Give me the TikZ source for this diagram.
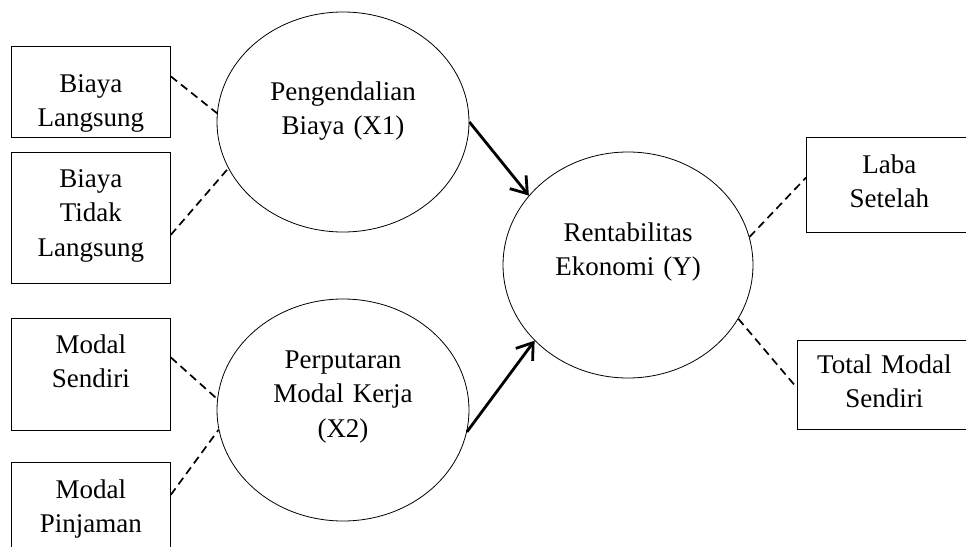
\documentclass[tikz,border=0pt]{standalone}
\usepackage{fontspec}
\setmainfont{Liberation Serif}
\usepackage{tikz}
\usetikzlibrary{positioning, arrows.meta, shapes.geometric}

\begin{document}
\begin{tikzpicture}[
    x=1pt, y=-1pt,
    indicator/.style={rectangle, draw, line width=0.8pt, inner sep=0pt, text width=159pt, align=center, font=\fontsize{27}{34.5}\selectfont},
    latent/.style={ellipse, draw, line width=0.8pt, inner sep=0pt, text width=170pt, align=center, text height=20pt, font=\fontsize{27}{34.5}\selectfont},
    arrow/.style={-{Straight Barb[length=15pt, width=21pt]}, line width=2.8pt},
    link/.style={line width=1.7pt, dash pattern=on 8pt off 5pt},
]

\useasboundingbox (0,0) rectangle (966,546);
\clip (0,0) rectangle (966,546);

% Indicators of X1
\node[indicator, anchor=north west, text height=46pt, text depth=45pt] (bl) at (11,46) {Biaya\\Langsung};
\node[indicator, anchor=north west, text height=35pt, text depth=96pt] (btl) at (11,152) {Biaya\\Tidak\\Langsung};

% Indicators of X2
\node[indicator, anchor=north west, text height=35pt, text depth=77pt] (ms) at (11,318) {Modal\\Sendiri};
\node[indicator, anchor=north west, text height=36pt, text depth=100pt] (mp) at (11,462) {Modal\\Pinjaman};

% Latent variables
\node[latent, minimum width=252pt, minimum height=220pt, text depth=64pt] (x1) at (343,122) {Pengendalian\\Biaya (X1)};
\node[latent, minimum width=252pt, minimum height=222pt, text depth=104pt] (x2) at (343,410) {Perputaran\\Modal Kerja\\(X2)};
\node[latent, minimum width=250pt, minimum height=226pt, text depth=68pt] (y) at (628,265) {Rentabilitas\\Ekonomi (Y)};

% Indicators of Y
\node[indicator, anchor=north west, text width=166pt, text height=36pt, text depth=59pt] (lb) at (806,137) {Laba\\Setelah};
\node[indicator, anchor=north west, text width=174pt, text height=33pt, text depth=56pt] (tm) at (797,340) {Total Modal\\Sendiri};

% Dashed links
\draw[link] (bl.11) -- (x1.176);
\draw[link] (btl.-12) -- (x1.202);
\draw[link] (ms.12) -- (x2.175);
\draw[link] (mp.24) -- (x2.189);
\draw[link] (y.13) -- (lb.175);
\draw[link] (y.-26) -- (tm.182);

% Paths
\draw[arrow] (x1.east) -- (y.145);
\draw[arrow] (x2.-10) -- (y.219);

\end{tikzpicture}
\end{document}
